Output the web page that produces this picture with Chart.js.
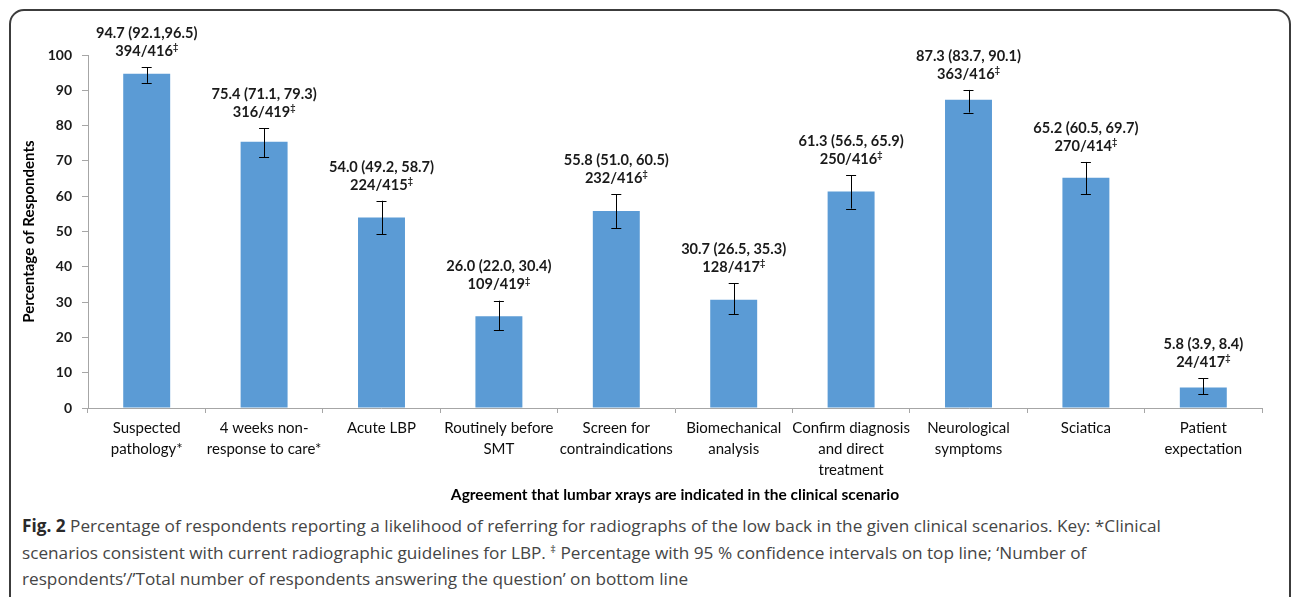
<!DOCTYPE html>
<html>
<head>
<meta charset="utf-8">
<script src="https://cdn.jsdelivr.net/npm/chart.js@4.4.1/dist/chart.umd.min.js"></script>
<style>
  html, body { margin: 0; padding: 0; background: #fff; }
  body { width: 1292px; height: 597px; position: relative; overflow: hidden; }
  #frame {
    position: absolute; left: 9px; top: 9px; width: 1282px; height: 700px;
    border: 2px solid #3c3c3c; border-radius: 15px; box-sizing: border-box;
  }
  #plot { position: absolute; left: 0; top: 0; width: 1292px; height: 510px; }
  #caption {
    position: absolute; left: 22px; top: 513px; width: 1265px;
    font-family: "Open Sans", sans-serif; font-size: 17.2px; line-height: 26.5px;
    font-weight: 400; color: #454545; white-space: nowrap;
  }
  #caption b { color: #2a2a2a; font-weight: 700; }
  #caption sup { font-size: 11px; vertical-align: 6px; line-height: 0; }
</style>
</head>
<body>
<div id="plot"><canvas id="chart" width="1292" height="510"></canvas></div>
<div id="caption"><b>Fig. 2</b> Percentage of respondents reporting a likelihood of referring for radiographs of the low back in the given clinical scenarios. Key: *Clinical<br>scenarios consistent with current radiographic guidelines for LBP. <sup>‡</sup> Percentage with 95 % confidence intervals on top line; ‘Number of<br>respondents’/’Total number of respondents answering the question’ on bottom line</div>
<div id="frame"></div>
<script>
// Clinical scenarios (multi-line axis labels)
const scenarios = [
  ["Suspected", "pathology*"],
  ["4 weeks non-", "response to care*"],
  ["Acute LBP"],
  ["Routinely before", "SMT"],
  ["Screen for", "contraindications"],
  ["Biomechanical", "analysis"],
  ["Confirm diagnosis", "and direct", "treatment"],
  ["Neurological", "symptoms"],
  ["Sciatica"],
  ["Patient", "expectation"]
];

// Percentage agreeing, with 95% confidence limits
const percentAgree = [94.7, 75.4, 54.0, 26.0, 55.8, 30.7, 61.3, 87.3, 65.2, 5.8];
const ciLower      = [92.1, 71.1, 49.2, 22.0, 51.0, 26.5, 56.5, 83.7, 60.5, 3.9];
const ciUpper      = [96.5, 79.3, 58.7, 30.4, 60.5, 35.3, 65.9, 90.1, 69.7, 8.4];
const ciSeparator  = [",", ", ", ", ", ", ", ", ", ", ", ", ", ", ", ", ", ", "];

// Number of respondents agreeing / total answering
const respondents  = [394, 316, 224, 109, 232, 128, 250, 363, 270, 24];
const answering    = [416, 419, 415, 419, 416, 417, 416, 416, 414, 417];

// Y axis ticks
const yTicks = [0, 10, 20, 30, 40, 50, 60, 70, 80, 90, 100];

const labelFont = '"Lato", "Liberation Sans", sans-serif';

// Error bars and two-line value labels above each bar
const errorBarsAndLabels = {
  id: 'errorBarsAndLabels',
  afterDatasetsDraw(chart) {
    const ctx = chart.ctx;
    const y = chart.scales.y;
    const meta = chart.getDatasetMeta(0);
    ctx.save();
    meta.data.forEach((bar, i) => {
      const x = bar.x;
      const yLo = y.getPixelForValue(ciLower[i]);
      const yHi = y.getPixelForValue(ciUpper[i]);
      const cap = 5;
      ctx.strokeStyle = '#000';
      ctx.lineWidth = 1;
      ctx.beginPath();
      ctx.moveTo(Math.round(x) + 0.5, yLo);
      ctx.lineTo(Math.round(x) + 0.5, yHi);
      ctx.moveTo(x - cap, Math.round(yHi) + 0.5);
      ctx.lineTo(x + cap, Math.round(yHi) + 0.5);
      ctx.moveTo(x - cap, Math.round(yLo) + 0.5);
      ctx.lineTo(x + cap, Math.round(yLo) + 0.5);
      ctx.stroke();

      const line1 = percentAgree[i].toFixed(1) + ' (' + ciLower[i].toFixed(1) +
                    ciSeparator[i] + ciUpper[i].toFixed(1) + ')';
      const line2 = respondents[i] + '/' + answering[i];
      ctx.fillStyle = '#1a1a1a';
      ctx.textBaseline = 'middle';
      ctx.textAlign = 'center';
      ctx.font = 'bold 14.6px ' + labelFont;
      ctx.fillText(line1, x, yHi - 34);

      const w2 = ctx.measureText(line2).width;
      ctx.font = 'bold 9px ' + labelFont;
      const wd = ctx.measureText('‡').width;
      const left = x - (w2 + wd) / 2;
      ctx.textAlign = 'left';
      ctx.font = 'bold 14.6px ' + labelFont;
      ctx.fillText(line2, left, yHi - 16);
      ctx.font = 'bold 9px ' + labelFont;
      ctx.fillText('‡', left + w2, yHi - 20);
    });
    ctx.restore();
  }
};

new Chart(document.getElementById('chart'), {
  type: 'bar',
  data: {
    labels: scenarios,
    datasets: [{
      data: percentAgree,
      backgroundColor: '#5b9bd5',
      borderWidth: 0,
      categoryPercentage: 1.0,
      barPercentage: 0.4
    }]
  },
  options: {
    responsive: false,
    animation: false,
    events: [],
    layout: { padding: { left: 20, right: 30, top: 55, bottom: 0 } },
    plugins: {
      legend: { display: false },
      tooltip: { enabled: false }
    },
    scales: {
      x: {
        offset: true,
        grid: {
          display: true, offset: true, drawOnChartArea: false, drawTicks: true,
          tickLength: 5, color: '#a6a6a6'
        },
        border: { display: true, color: '#a6a6a6', width: 1 },
        ticks: {
          color: '#0d0d0d', padding: 5, maxRotation: 0, autoSkip: false,
          font: { family: labelFont, size: 15, lineHeight: 1.38 }
        },
        title: {
          display: true,
          text: 'Agreement that lumbar xrays are indicated in the clinical scenario',
          color: '#000',
          font: { family: labelFont, size: 15.5, weight: 'bold' },
          padding: { top: 0, bottom: 6 }
        },
        afterFit(scale) { scale.height = 102; }
      },
      y: {
        min: 0, max: 100,
        afterBuildTicks(scale) { scale.ticks = yTicks.map(v => ({ value: v })); },
        grid: {
          display: true, drawOnChartArea: false, drawTicks: true,
          tickLength: 6, color: '#a6a6a6'
        },
        border: { display: true, color: '#a6a6a6', width: 1 },
        ticks: {
          color: '#1a1a1a', padding: 10,
          font: { family: labelFont, size: 14, weight: 'bold' }
        },
        title: {
          display: true,
          text: 'Percentage of Respondents',
          color: '#000',
          font: { family: labelFont, size: 15, weight: 'bold' },
          padding: { top: 0, bottom: 6 }
        },
        afterFit(scale) { scale.width = 68; }
      }
    }
  },
  plugins: [errorBarsAndLabels]
});
</script>
</body>
</html>
